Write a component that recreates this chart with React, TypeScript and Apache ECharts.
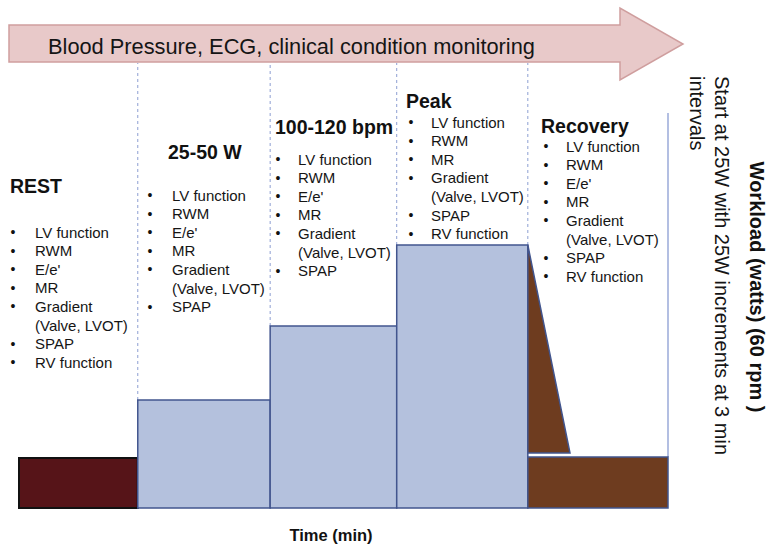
import React, { useEffect, useRef } from "react";
import * as echarts from "echarts";

// ---- data ----
const stages = ["REST", "25-50 W", "100-120 bpm", "Peak", "Recovery"];
const stageStart = [0, 18.3, 38.7, 58.2, 78.4];
const stageEnd = [18.3, 38.7, 58.2, 78.4, 100];
const stageWorkload = [10, 21.6, 36.4, 52.6, 10.2];
// recovery decline wedge: [time, workload]
const recoveryDecline = [
  [78.4, 52.6],
  [84.9, 11],
  [78.4, 11],
];
const monitorTop = 89; // top of the dashed stage dividers (arrow bottom)
const rightEdgeTop = 79;

const restItems = ["LV function", "RWM", "E/e'", "MR", "Gradient", "(Valve, LVOT)", "SPAP", "RV function"];
const lowItems = ["LV function", "RWM", "E/e'", "MR", "Gradient", "(Valve, LVOT)", "SPAP"];
const midItems = ["LV function", "RWM", "E/e'", "MR", "Gradient", "(Valve, LVOT)", "SPAP"];
const peakItems = ["LV function", "RWM", "MR", "Gradient", "(Valve, LVOT)", "SPAP", "RV function"];
const recoveryItems = ["LV function", "RWM", "E/e'", "MR", "Gradient", "(Valve, LVOT)", "SPAP", "RV function"];
const stageItems = [restItems, lowItems, midItems, peakItems, recoveryItems];

const arrowText = "Blood Pressure, ECG, clinical condition monitoring";
const xAxisTitle = "Time (min)";
const yAxisTitle = "Workload (watts) (60 rpm )";
const protocolNote = ["Start at 25W with 25W increments at 3 min", "intervals"];

// ---- styles ----
const FONT = '"Liberation Sans", Arial, Helvetica, sans-serif';
const fills = ["#561418", "#b4c1dd", "#b4c1dd", "#b4c1dd", "#6e3c1f"];
const strokes = ["#111111", "#42558e", "#42558e", "#42558e", "#42558e"];
const strokeW = [2, 1.5, 1.5, 1.5, 1.5];

// text layout (pixels)
const headerPos = [
  [10, 186],
  [168, 152],
  [275, 127],
  [406, 101],
  [541, 126],
];
const listPos = [
  // bulletX, textX, firstLineY
  [13, 35, 232],
  [150, 172, 195],
  [278, 298, 159],
  [411, 431, 122],
  [546, 566, 146],
];
const LINE_H = 18.6;

export default function App() {
  const ref = useRef<HTMLDivElement>(null);

  useEffect(() => {
    if (!ref.current) return;
    const chart = echarts.init(ref.current, null, { renderer: "svg" });

    const graphics: any[] = [];
    // monitoring arrow
    graphics.push({
      type: "polygon",
      shape: {
        points: [
          [9, 25],
          [620, 25],
          [620, 8],
          [683, 44],
          [620, 80],
          [620, 62],
          [9, 62],
        ],
      },
      style: { fill: "#e8c9c9", stroke: "#cf9e9e", lineWidth: 1.5 },
      z: 10,
    });
    graphics.push({
      type: "text",
      x: 48,
      y: 46,
      scaleY: 1.05,
      style: {
        text: arrowText,
        font: `21.8px ${FONT}`,
        fill: "#151515",
        textAlign: "left",
        textVerticalAlign: "middle",
      },
      z: 11,
    });

    stages.forEach((name, i) => {
      graphics.push({
        type: "text",
        x: headerPos[i][0],
        y: headerPos[i][1],
        style: {
          text: name,
          font: `bold 19.5px ${FONT}`,
          fill: "#111",
          textAlign: "left",
          textVerticalAlign: "middle",
        },
        z: 11,
      });
      const [bx, tx, y0] = listPos[i];
      stageItems[i].forEach((item, k) => {
        const y = y0 + k * LINE_H;
        if (!item.startsWith("(")) {
          graphics.push({
            type: "text",
            x: bx,
            y,
            style: { text: "•", font: `14px ${FONT}`, fill: "#111", textAlign: "center", textVerticalAlign: "middle" },
            z: 11,
          });
        }
        graphics.push({
          type: "text",
          x: tx,
          y,
          style: { text: item, font: `15px ${FONT}`, fill: "#151515", textAlign: "left", textVerticalAlign: "middle" },
          z: 11,
        });
      });
    });

    graphics.push({
      type: "text",
      x: 331,
      y: 535,
      style: { text: xAxisTitle, font: `bold 16.5px ${FONT}`, fill: "#111", textAlign: "center", textVerticalAlign: "middle" },
      z: 11,
    });
    graphics.push({
      type: "text",
      x: 757,
      y: 287,
      rotation: -Math.PI / 2,
      style: { text: yAxisTitle, font: `bold 20px ${FONT}`, fill: "#111", textAlign: "center", textVerticalAlign: "middle" },
      z: 11,
    });
    protocolNote.forEach((line, k) => {
      graphics.push({
        type: "text",
        x: 722 - k * 25,
        y: 76,
        rotation: -Math.PI / 2,
        style: { text: line, font: `20px ${FONT}`, fill: "#151515", textAlign: "left", textVerticalAlign: "middle" },
        z: 11,
      });
    });

    const dividerData = stageEnd.slice(0, 4).map((x, i) => [x, Math.max(stageWorkload[i], stageWorkload[i + 1]), monitorTop]);

    chart.setOption({
      animation: false,
      grid: { left: 19, right: 102, top: 8, bottom: 42 },
      xAxis: { type: "value", min: 0, max: 100, show: false },
      yAxis: { type: "value", min: 0, max: 100, show: false },
      graphic: { elements: graphics },
      series: [
        {
          type: "custom",
          name: "dividers",
          silent: true,
          z: 1,
          renderItem: (_p: any, api: any) => {
            const a = api.coord([api.value(0), api.value(1)]);
            const b = api.coord([api.value(0), api.value(2)]);
            return {
              type: "line",
              shape: { x1: a[0], y1: a[1], x2: b[0], y2: b[1] },
              style: { stroke: "#8d9fd2", lineWidth: 1, lineDash: [3, 3] },
            };
          },
          data: dividerData,
        },
        {
          type: "custom",
          name: "rightEdge",
          silent: true,
          z: 1,
          renderItem: (_p: any, api: any) => {
            const a = api.coord([api.value(0), api.value(1)]);
            const b = api.coord([api.value(0), api.value(2)]);
            return {
              type: "line",
              shape: { x1: a[0], y1: a[1], x2: b[0], y2: b[1] },
              style: { stroke: "#b3bfe2", lineWidth: 2 },
            };
          },
          data: [[stageEnd[4], stageWorkload[4], rightEdgeTop]],
        },
        {
          type: "custom",
          name: "stages",
          silent: true,
          z: 2,
          renderItem: (params: any, api: any) => {
            const i = params.dataIndex;
            const p0 = api.coord([api.value(0), 0]);
            const p1 = api.coord([api.value(1), api.value(2)]);
            return {
              type: "rect",
              shape: { x: p0[0], y: p1[1], width: p1[0] - p0[0], height: p0[1] - p1[1] },
              style: { fill: fills[i], stroke: strokes[i], lineWidth: strokeW[i] },
            };
          },
          data: stages.map((_, i) => [stageStart[i], stageEnd[i], stageWorkload[i]]),
        },
        {
          type: "custom",
          name: "decline",
          silent: true,
          z: 3,
          renderItem: (_p: any, api: any) => {
            const pts = recoveryDecline.map((p) => api.coord(p));
            return {
              type: "polygon",
              shape: { points: pts },
              style: { fill: fills[4], stroke: strokes[4], lineWidth: 1.5 },
            };
          },
          data: [[0]],
        },
      ],
    });

    return () => chart.dispose();
  }, []);

  return (
    <div
      ref={ref}
      style={{ position: "fixed", left: 0, top: 0, width: 770, height: 550, background: "#fff" }}
    />
  );
}
